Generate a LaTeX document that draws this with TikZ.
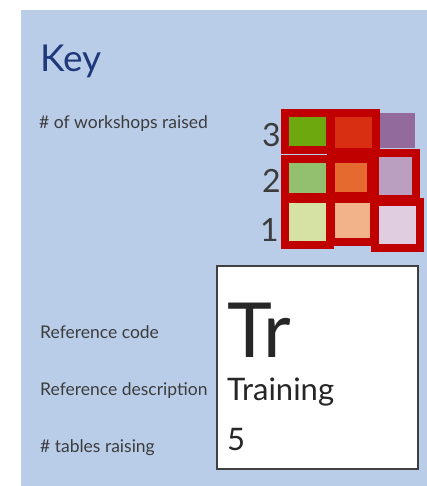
\documentclass[tikz,border=0pt]{standalone}
\usepackage{fontspec}
\setmainfont{Lato}
\usepackage{tikz}
\usetikzlibrary{positioning}

\definecolor{keybg}{RGB}{185,205,233}
\definecolor{keynavy}{RGB}{31,56,122}
\definecolor{labelgrey}{RGB}{60,60,60}
\definecolor{framered}{RGB}{192,0,0}
\definecolor{greenA}{RGB}{108,168,14}
\definecolor{greenB}{RGB}{146,192,111}
\definecolor{greenC}{RGB}{214,226,163}
\definecolor{redA}{RGB}{216,46,18}
\definecolor{redB}{RGB}{229,106,48}
\definecolor{redC}{RGB}{242,179,138}
\definecolor{purpleA}{RGB}{146,106,155}
\definecolor{purpleB}{RGB}{186,159,192}
\definecolor{purpleC}{RGB}{224,206,224}

\begin{document}
\begin{tikzpicture}[x=1pt,y=-1pt,
	cell/.style={rectangle, draw=framered, line width=8pt, inner sep=0pt},
	plaincell/.style={rectangle, inner sep=0pt},
	keylabel/.style={anchor=base west, text=labelgrey, font=\fontsize{17.5}{20}\selectfont, inner sep=0pt},
	digit/.style={anchor=base east, text=labelgrey, font=\fontsize{32}{36}\selectfont, inner sep=0pt},
	cardtext/.style={anchor=base west, text=black!85, inner sep=0pt},
	]
	\useasboundingbox (0,0) rectangle (427,486);
	\fill[keybg] (21,10) rectangle (427,486);

	%Title and labels
	\node[anchor=base west, text=keynavy, font=\fontsize{37}{40}\selectfont, inner sep=0pt] (title) at (40,72) {Key};
	\node[keylabel] (workshops) at (39,129) {\# of workshops raised};
	\node[keylabel] (refcode) at (40,338) {Reference code};
	\node[keylabel] (refdesc) at (40,395) {Reference description};
	\node[keylabel] (tables) at (40,452) {\# tables raising};

	%Scale digits
	\node[digit] (d3) at (281,147) {3};
	\node[digit] (d2) at (281,192) {2};
	\node[digit] (d1) at (279,241) {1};

	%Cells
	\node[plaincell, fill=purpleA, minimum width=36pt, minimum height=35pt] (p3) at (397,130.5) {};
	\node[cell, fill=greenA, minimum width=45pt, minimum height=37pt] (g3) at (307.5,131.5) {};
	\node[cell, fill=redA, minimum width=45pt, minimum height=39pt] (r3) at (353.5,132.5) {};
	\node[cell, fill=greenB, minimum width=45pt, minimum height=38pt] (g2) at (307.5,178) {};
	\node[cell, fill=redB, minimum width=40pt, minimum height=37pt] (r2) at (351,177.5) {};
	\node[cell, fill=purpleB, minimum width=41pt, minimum height=46pt] (p2) at (395.5,176) {};
	\node[cell, fill=greenC, minimum width=45pt, minimum height=46pt] (g1) at (307.5,222) {};
	\node[cell, fill=redC, minimum width=43pt, minimum height=43pt] (r1) at (352.5,220.5) {};
	\node[cell, fill=purpleC, minimum width=45pt, minimum height=46pt] (p1) at (397.5,224.5) {};

	%Element card
	\node[rectangle, draw=black!75, line width=1.8pt, fill=white, minimum width=201pt, minimum height=203pt, inner sep=0pt] (card) at (317.5,367.5) {};
	\node[cardtext, font=\fontsize{76}{80}\selectfont] (code) at (227,357) {Tr};
	\node[cardtext, font=\fontsize{31}{34}\selectfont] (desc) at (227,400) {Training};
	\node[cardtext, font=\fontsize{31}{34}\selectfont] (count) at (227,450) {5};
\end{tikzpicture}
\end{document}
